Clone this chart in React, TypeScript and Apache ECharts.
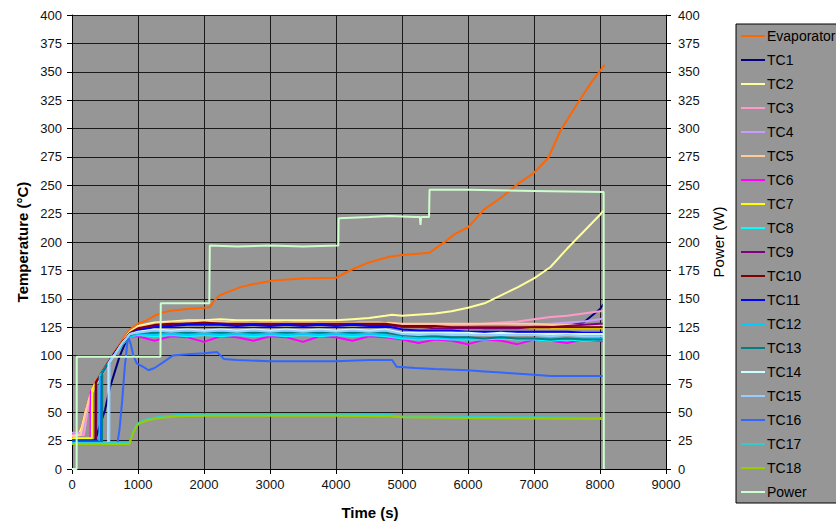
import React, { useEffect, useRef } from 'react';
import * as echarts from 'echarts';

const X_TICKS = { min: 0, max: 9000, interval: 1000 };
const Y_TICKS = { min: 0, max: 400, interval: 25 };

const SERIES_NAMES = ['Evaporator', 'TC1', 'TC2', 'TC3', 'TC4', 'TC5', 'TC6', 'TC7', 'TC8', 'TC9', 'TC10', 'TC11', 'TC12', 'TC13', 'TC14', 'TC15', 'TC16', 'TC17', 'TC18', 'Power'];
const SERIES_COLORS = ['#FF6600', '#000080', '#FFFF99', '#FF99CC', '#CC99FF', '#FFCC99', '#FF00FF', '#FFFF00', '#00FFFF', '#800080', '#800000', '#0000FF', '#00CCFF', '#008080', '#CCFFFF', '#99CCFF', '#3366FF', '#33CCCC', '#99CC00', '#CCFFCC'];

// shared time grid for the thermocouple plateau
const PLATEAU_TIMES = [1000, 1250, 1500, 1750, 2000, 2250, 2500, 2750, 3000, 3250, 3500, 3750, 4000, 4250, 4500, 4750, 5000, 5250, 5500, 5750, 6000, 6250, 6500, 6750, 7000, 7250, 7500, 7750, 8000, 8050];

const EVAPORATOR = [[0, 30], [100, 32], [150, 38], [200, 50], [250, 61], [300, 70], [350, 76], [400, 81], [500, 90], [600, 99], [700, 108], [800, 117], [880, 123], [1000, 128], [1130, 131], [1250, 135], [1380, 138], [1500, 139.5], [1750, 141], [2000, 142], [2088, 142.5], [2150, 148], [2240, 153], [2540, 160], [2750, 163], [3050, 166], [3550, 168], [4000, 168.5], [4250, 176], [4500, 182], [4810, 187], [5000, 188.5], [5420, 190.5], [5570, 197], [5670, 201], [5800, 207], [6000, 213], [6250, 229], [6500, 239], [6750, 251], [7000, 261], [7215, 274], [7400, 298], [7680, 324], [7885, 342], [8070, 356]];

const TC2 = [[0, 29], [100, 30], [150, 37], [200, 49], [250, 59], [300, 67], [400, 78], [500, 88], [600, 97], [700, 106], [800, 115], [880, 121], [1000, 126], [1250, 129], [1500, 130], [1750, 131], [2000, 131], [2250, 132], [2500, 131], [3000, 131], [3500, 131], [4000, 131], [4250, 132], [4500, 133], [4750, 135], [4850, 136], [5000, 135], [5500, 137], [5750, 139], [6000, 142], [6250, 146], [6500, 153], [6750, 160], [7000, 168], [7250, 178], [7500, 194], [7750, 209], [8000, 224], [8060, 228]];

const TC1_HEAD = [[0, 25], [350, 25], [420, 38], [500, 52], [576, 72], [650, 86], [720, 99], [800, 110], [880, 120]];
const TC1_PLATEAU = [124, 127, 128, 129, 129, 129, 128, 129, 128, 129, 128, 129, 129, 129, 128, 129, 126, 126, 125, 125, 125, 124, 124, 124, 124, 125, 126, 129, 141, 145];

const TC3_HEAD = [[0, 30], [180, 30], [220, 45], [260, 60], [300, 69], [400, 80], [500, 89], [600, 97], [700, 106], [800, 114], [880, 119]];
const TC3_PLATEAU = [124, 127, 128, 128, 128, 128, 128, 128, 128, 128, 128, 128, 128, 128, 128, 128, 127, 127, 127, 127, 127, 128, 129, 130, 132, 134, 135, 137, 139, 139];

const TC4_HEAD = [[0, 32], [160, 32], [200, 45], [240, 58], [280, 66], [350, 75], [450, 84], [550, 93], [650, 102], [750, 110], [880, 119]];
const TC4_PLATEAU = [123, 126, 127, 127, 127, 127, 127, 127, 127, 127, 127, 127, 127, 127, 127, 127, 125, 125, 125, 125, 125, 125, 125, 126, 127, 128, 129, 130, 132, 133];

const TC5_HEAD = [[0, 29], [130, 30], [200, 48], [260, 62], [320, 71], [400, 80], [500, 89], [600, 97], [700, 106], [800, 114], [880, 120]];
const TC5_PLATEAU = [125, 128, 129, 130, 130, 130, 129, 129, 129, 129, 129, 129, 129, 129, 129, 129, 128, 128, 128, 128, 128, 128, 128, 128, 128, 127, 127, 127, 127, 127];

const TC6_HEAD = [[0, 26], [280, 26], [284, 68], [350, 75], [450, 84], [550, 93], [650, 101], [750, 109], [880, 117]];
const TC6_PLATEAU = [117, 113, 117, 116, 112, 117, 116, 113, 117, 116, 112, 117, 116, 113, 117, 116, 114, 111, 114, 113, 110, 114, 113, 110, 114, 113, 111, 114, 113, 112];

const TC7_HEAD = [[0, 27], [300, 27], [304, 70], [400, 80], [500, 89], [600, 97], [700, 105], [800, 113], [880, 118]];
const TC7_PLATEAU = [123, 126, 127, 128, 128, 128, 127, 127, 127, 127, 127, 127, 127, 127, 127, 127, 125, 125, 124, 124, 124, 124, 124, 124, 124, 124, 124, 124, 124, 124];

const TC8_HEAD = [[0, 24], [425, 24], [429, 83], [500, 89], [600, 97], [700, 105], [800, 112], [880, 117]];
const TC8_PLATEAU = [118, 117, 118, 117, 118, 117, 118, 117, 118, 117, 118, 117, 118, 117, 118, 117, 115, 114, 115, 114, 114, 114, 115, 114, 114, 113, 114, 113, 114, 114];

const TC9_HEAD = [[0, 25], [365, 25], [369, 77], [450, 84], [550, 93], [650, 102], [750, 110], [880, 119]];
const TC9_PLATEAU = [123, 126, 127, 128, 128, 128, 127, 127, 127, 127, 127, 127, 127, 127, 127, 127, 125, 125, 124, 124, 124, 124, 124, 124, 125, 125, 126, 127, 128, 128];

const TC10_HEAD = [[0, 25], [355, 25], [359, 76], [450, 85], [550, 94], [650, 103], [750, 111], [880, 120]];
const TC10_PLATEAU = [124, 127, 128, 128, 129, 128, 128, 128, 128, 128, 128, 128, 128, 128, 128, 128, 126, 126, 126, 125, 125, 125, 125, 125, 125, 125, 125, 125, 125, 125];

const TC11_HEAD = [[0, 25], [440, 25], [444, 84], [500, 89], [600, 98], [700, 106], [800, 113], [880, 119]];
const TC11_PLATEAU = [122, 125, 126, 127, 127, 127, 126, 127, 126, 127, 126, 127, 126, 127, 126, 126, 123, 122, 122, 122, 121, 121, 121, 121, 121, 121, 121, 120, 120, 120];

const TC12_HEAD = [[0, 24], [415, 24], [419, 82], [500, 89], [600, 97], [700, 105], [800, 112], [880, 117]];
const TC12_PLATEAU = [119, 118, 119, 118, 119, 118, 119, 118, 119, 118, 119, 118, 119, 118, 119, 118, 116, 115, 116, 115, 115, 115, 116, 115, 115, 114, 115, 114, 115, 115];

const TC13_HEAD = [[0, 24], [455, 24], [459, 85], [550, 93], [650, 101], [750, 109], [880, 118]];
const TC13_PLATEAU = [120, 120, 121, 120, 121, 120, 121, 120, 121, 120, 121, 120, 121, 120, 121, 120, 118, 117, 117, 116, 116, 115, 116, 115, 115, 114, 115, 114, 114, 114];

const TC14_HEAD = [[0, 23], [550, 23], [554, 93], [650, 101], [750, 110], [880, 119]];
const TC14_PLATEAU = [121, 123, 122, 123, 122, 123, 122, 123, 122, 123, 122, 123, 122, 123, 122, 123, 120, 120, 120, 120, 120, 119, 120, 119, 119, 119, 119, 119, 119, 119];

const TC15_HEAD = [[0, 23], [565, 23], [569, 95], [650, 101], [750, 110], [880, 119]];
const TC15_PLATEAU = [120, 122, 121, 122, 121, 122, 121, 122, 121, 122, 121, 122, 121, 122, 121, 122, 119, 118, 119, 118, 118, 118, 118, 118, 118, 117, 118, 117, 117, 117];

const TC16 = [[0, 23], [690, 23], [720, 35], [760, 60], [800, 90], [840, 112], [860, 115], [890, 110], [930, 100], [980, 93], [1080, 90], [1160, 87], [1250, 89], [1380, 94], [1530, 100], [1750, 101], [2000, 102], [2200, 103], [2300, 97], [2500, 96], [3000, 95], [3500, 95], [4000, 95], [4500, 96], [4850, 96], [4920, 90], [5200, 89], [5500, 88], [6000, 87], [6250, 86], [6500, 85], [7000, 83], [7250, 82], [7500, 82], [8000, 82], [8060, 82]];

const TC17 = [[0, 23], [870, 23], [920, 32], [980, 39], [1030, 41.5], [1150, 44], [1333, 46], [1600, 47.5], [2000, 48], [3000, 48], [4000, 48], [4800, 47.5], [5000, 46.5], [6000, 46], [7000, 45.5], [8060, 45]];

const TC18 = [[0, 22], [870, 22], [920, 31], [980, 38], [1030, 40.5], [1150, 43], [1333, 45], [1600, 46.5], [2000, 47], [3000, 47], [4000, 47], [4800, 46.5], [5000, 45.5], [6000, 45], [7000, 44.5], [8060, 44]];

const POWER = [[0, 0], [70, 0], [72, 99], [1340, 99], [1345, 146], [2080, 146], [2088, 197], [2500, 196], [3000, 197], [3500, 196], [4035, 197], [4040, 221], [4500, 222], [4810, 223], [5200, 222], [5270, 222], [5280, 215], [5290, 222], [5410, 222], [5417, 246], [6000, 246], [7000, 245], [8055, 244], [8058, 0]];

function withPlateau(head: number[][], plateau: number[]) {
  return head.concat(PLATEAU_TIMES.map((t, i) => [t, plateau[i]]));
}

const FONT = '"Liberation Sans", Arial, sans-serif';
const LEGEND_LINE_ICON = 'path://M0,0h0.01v0.01H0z M0,6h24v2H0z M24,14h-0.01v-0.01H24z';

export default function App() {
  const ref = useRef<HTMLDivElement>(null);
  useEffect(() => {
    document.body.style.margin = '0';
    const chart = echarts.init(ref.current!, undefined, { renderer: 'svg' });
    const dataList = [
      EVAPORATOR,
      withPlateau(TC1_HEAD, TC1_PLATEAU),
      TC2,
      withPlateau(TC3_HEAD, TC3_PLATEAU),
      withPlateau(TC4_HEAD, TC4_PLATEAU),
      withPlateau(TC5_HEAD, TC5_PLATEAU),
      withPlateau(TC6_HEAD, TC6_PLATEAU),
      withPlateau(TC7_HEAD, TC7_PLATEAU),
      withPlateau(TC8_HEAD, TC8_PLATEAU),
      withPlateau(TC9_HEAD, TC9_PLATEAU),
      withPlateau(TC10_HEAD, TC10_PLATEAU),
      withPlateau(TC11_HEAD, TC11_PLATEAU),
      withPlateau(TC12_HEAD, TC12_PLATEAU),
      withPlateau(TC13_HEAD, TC13_PLATEAU),
      withPlateau(TC14_HEAD, TC14_PLATEAU),
      withPlateau(TC15_HEAD, TC15_PLATEAU),
      TC16,
      TC17,
      TC18,
      POWER,
    ];
    const series = SERIES_NAMES.map((name, i) => ({
      name,
      type: 'line',
      yAxisIndex: name === 'Power' ? 1 : 0,
      data: dataList[i],
      symbol: 'none',
      color: SERIES_COLORS[i],
      itemStyle: { color: SERIES_COLORS[i] },
      lineStyle: { width: 2, color: SERIES_COLORS[i] },
      z: 2 + i * 0.01,
    }));
    const axisLabel = { color: '#111', fontSize: 13, fontFamily: FONT };
    chart.setOption({
      animation: false,
      backgroundColor: '#ffffff',
      grid: { left: 72, right: 170, top: 15, bottom: 56, show: true, backgroundColor: '#969696', borderWidth: 0 },
      xAxis: {
        type: 'value',
        ...X_TICKS,
        axisLine: { show: true, lineStyle: { color: '#000', width: 1 } },
        axisTick: { show: true, length: 5, lineStyle: { color: '#000' } },
        axisLabel: { ...axisLabel, margin: 9, formatter: (v: number) => String(v) },
        splitLine: { show: true, lineStyle: { color: '#1a1a1a', width: 1 } },
      },
      yAxis: [
        {
          type: 'value',
          ...Y_TICKS,
          axisLine: { show: true, lineStyle: { color: '#000', width: 1 } },
          axisTick: { show: true, length: 5, lineStyle: { color: '#000' } },
          axisLabel: { ...axisLabel, margin: 10 },
          splitLine: { show: true, lineStyle: { color: '#1a1a1a', width: 1 } },
        },
        {
          type: 'value',
          position: 'right',
          ...Y_TICKS,
          axisLine: { show: true, lineStyle: { color: '#000', width: 1 } },
          axisTick: { show: true, length: 5, lineStyle: { color: '#000' } },
          axisLabel: { ...axisLabel, margin: 12 },
          splitLine: { show: false },
        },
      ],
      legend: {
        orient: 'vertical',
        left: 736,
        top: 24,
        data: SERIES_NAMES.map((name) => ({ name, icon: LEGEND_LINE_ICON })),
        selectedMode: false,
        backgroundColor: '#969696',
        borderColor: '#000',
        borderWidth: 1,
        padding: [5, 60, 4, 5],
        itemWidth: 24,
        itemHeight: 14,
        itemGap: 10,
        textStyle: { color: '#000', fontSize: 14, fontFamily: FONT, padding: [0, 0, 0, -3] },
      },
      graphic: [
        { type: 'text', style: { text: 'Temperature (°C)', font: `bold 15px ${FONT}`, fill: '#000', textAlign: 'center', textVerticalAlign: 'middle' }, x: 22, y: 242, rotation: Math.PI / 2 },
        { type: 'text', style: { text: 'Time (s)', font: `bold 15px ${FONT}`, fill: '#000', textAlign: 'center', textVerticalAlign: 'middle' }, x: 370, y: 512 },
        { type: 'text', style: { text: 'Power (W)', font: `15px ${FONT}`, fill: '#000', textAlign: 'center', textVerticalAlign: 'middle' }, x: 718, y: 242, rotation: Math.PI / 2 },
      ],
      series,
    });
    return () => chart.dispose();
  }, []);
  return <div ref={ref} style={{ width: 836, height: 525 }} />;
}
